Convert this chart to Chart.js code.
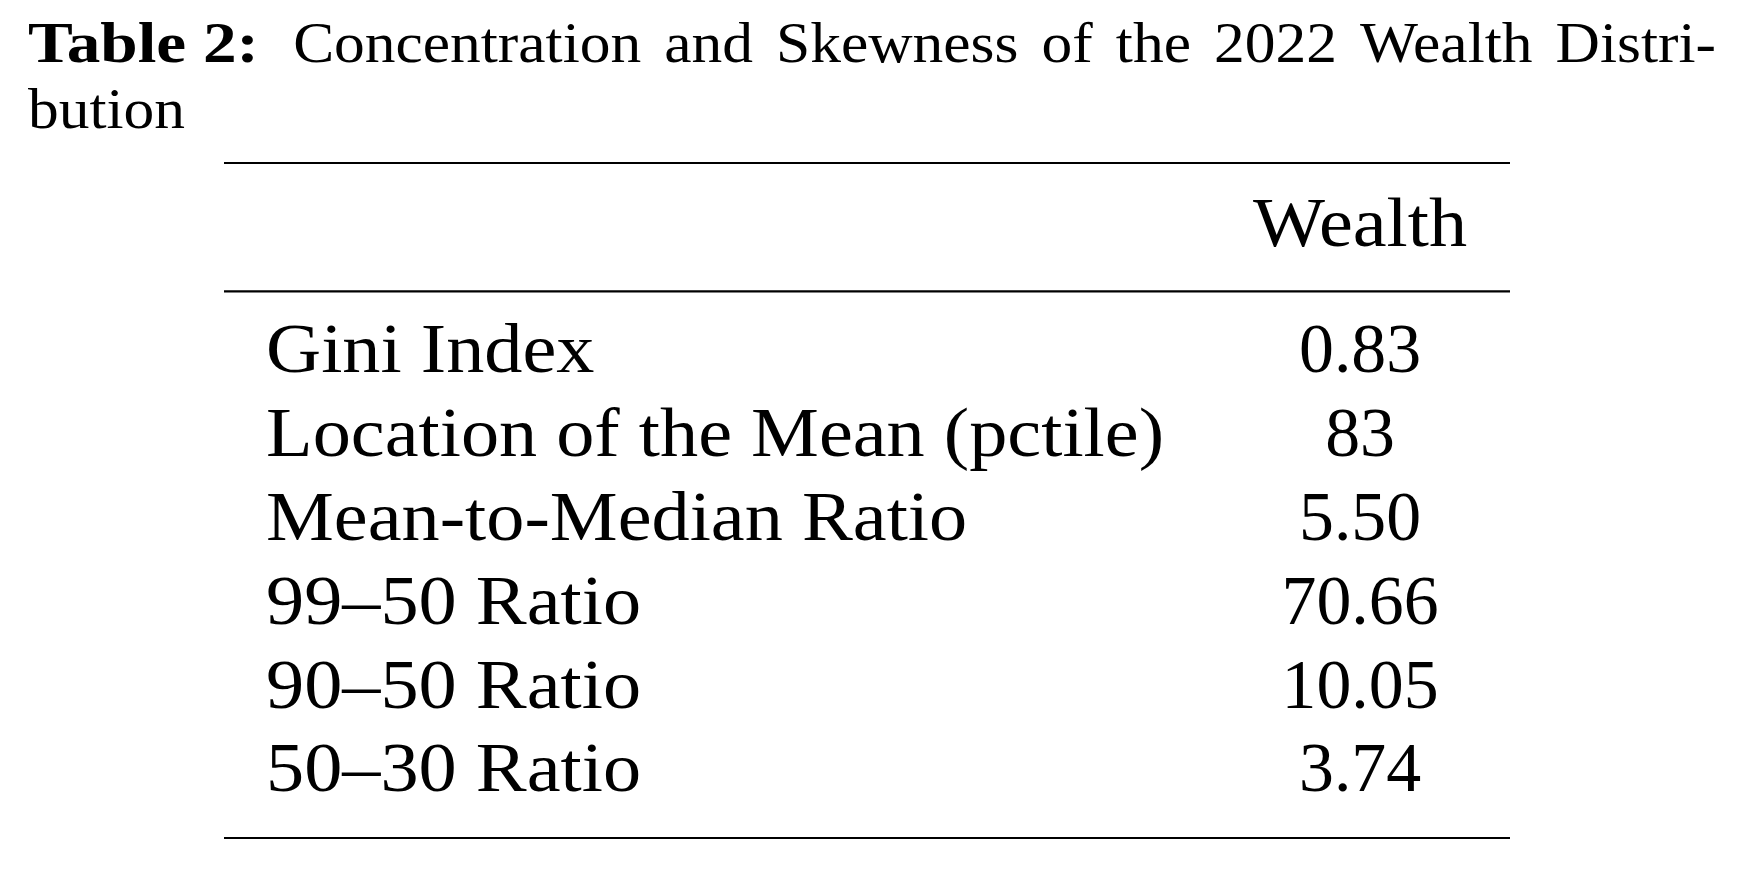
<!DOCTYPE html>
<html>
<head>
<meta charset="utf-8">
<script src="https://cdn.jsdelivr.net/npm/chart.js@4/dist/chart.umd.min.js"></script>
<style>
  html, body { margin: 0; padding: 0; background: #ffffff; }
  #wrap { position: relative; width: 1758px; height: 889px; }
</style>
</head>
<body>
<div id="wrap"><canvas id="c"></canvas></div>
<script>
// ---- data ----
const titleBold = 'Table 2:';
const titleLine1 = ['Concentration', 'and', 'Skewness', 'of', 'the', '2022', 'Wealth', 'Distri-'];
const titleLine2 = ['bution'];
const columnHeaders = ['Wealth'];
const rowLabels = [
  'Gini Index',
  'Location of the Mean (pctile)',
  'Mean-to-Median Ratio',
  '99\u201350 Ratio',
  '90\u201350 Ratio',
  '50\u201330 Ratio'
];
const wealthValues = [0.83, 83, 5.50, 70.66, 10.05, 3.74];
const wealthDecimals = [2, 0, 2, 2, 2, 2];

// ---- layout / style (not data) ----
const FONT_FAMILY = '"Liberation Serif", "Times New Roman", serif';
const TABLE_PX = 70.5;
const TITLE_PX = 57;
const COL_LABEL = 0.0327;   // x-scale value of the label column left edge
const COL_WEALTH = 0.8834;  // x-scale value of the Wealth column centre
const HEADER_ROW = -1.512;  // y-scale value of the header baseline
const MID_RULE = -0.967;    // y-scale value of the rule under the header

const tablePlugin = {
  id: 'tablePlugin',
  afterDatasetsDraw(chart) {
    const ctx = chart.ctx;
    const xs = chart.scales.x, ys = chart.scales.y;
    const area = chart.chartArea;
    ctx.save();
    ctx.fillStyle = '#000';
    ctx.strokeStyle = '#000';
    ctx.textBaseline = 'alphabetic';

    function drawScaled(text, x, y, align, font, sx) {
      ctx.save();
      ctx.font = font;
      ctx.textAlign = align;
      ctx.translate(x, y);
      ctx.scale(sx, 1);
      ctx.fillText(text, 0, 0);
      ctx.restore();
    }
    function measure(text, font) { ctx.font = font; return ctx.measureText(text).width; }

    // ---- title ----
    const fBold = 'bold ' + TITLE_PX + 'px ' + FONT_FAMILY;
    const fNorm = TITLE_PX + 'px ' + FONT_FAMILY;
    const sxTitle = 157 / measure('bution', fNorm);
    const sxBold = 231 / measure(titleBold, fBold);
    const tLeft = 28, tRight = 1716, base1 = 62, base2 = 128;
    const wb = measure(titleBold, fBold) * sxBold;
    const ws = titleLine1.map(w => measure(w, fNorm) * sxTitle);
    const sumW = ws.reduce((a, b) => a + b, 0);
    const extraColon = 11;
    const gap = (tRight - tLeft - wb - sumW - extraColon) / titleLine1.length;
    drawScaled(titleBold, tLeft, base1, 'left', fBold, sxBold);
    let cx = tLeft + wb + gap + extraColon;
    titleLine1.forEach((w, i) => {
      drawScaled(w, cx, base1, 'left', fNorm, sxTitle);
      cx += ws[i] + gap;
    });
    drawScaled(titleLine2.join(' '), tLeft, base2, 'left', fNorm, sxTitle);

    // ---- rules ----
    ctx.lineWidth = 2.2;
    [ys.min, MID_RULE, ys.max].forEach(v => {
      const y = ys.getPixelForValue(v);
      ctx.beginPath();
      ctx.moveTo(area.left, y);
      ctx.lineTo(area.right, y);
      ctx.stroke();
    });

    // ---- header ----
    const fTab = TABLE_PX + 'px ' + FONT_FAMILY;
    const sxText = 898 / measure(rowLabels[1], fTab);
    drawScaled(columnHeaders[0], xs.getPixelForValue(COL_WEALTH), ys.getPixelForValue(HEADER_ROW), 'center', fTab, sxText);

    // ---- row labels ----
    rowLabels.forEach((lab, i) => {
      drawScaled(lab, xs.getPixelForValue(COL_LABEL), ys.getPixelForValue(i), 'left', fTab, sxText);
    });

    // ---- values (from the dataset's own points) ----
    const meta = chart.getDatasetMeta(0);
    meta.data.forEach((pt, i) => {
      const txt = wealthValues[i].toFixed(wealthDecimals[i]);
      drawScaled(txt, pt.x, pt.y, 'center', fTab, 0.99);
    });
    ctx.restore();
  }
};

new Chart(document.getElementById('c'), {
  type: 'scatter',
  data: {
    datasets: [{
      label: columnHeaders[0],
      data: wealthValues.map((v, i) => ({ x: COL_WEALTH, y: i })),
      pointRadius: 0,
      pointHoverRadius: 0,
      showLine: false
    }]
  },
  options: {
    responsive: true,
    maintainAspectRatio: false,
    animation: false,
    events: [],
    layout: { padding: { left: 224, right: 248, top: 163, bottom: 51 } },
    plugins: { legend: { display: false }, tooltip: { enabled: false }, title: { display: false } },
    scales: {
      x: { type: 'linear', display: false, min: 0, max: 1 },
      y: { type: 'linear', display: false, reverse: true, min: -2.5, max: 5.555 }
    }
  },
  plugins: [tablePlugin]
});
</script>
</body>
</html>
